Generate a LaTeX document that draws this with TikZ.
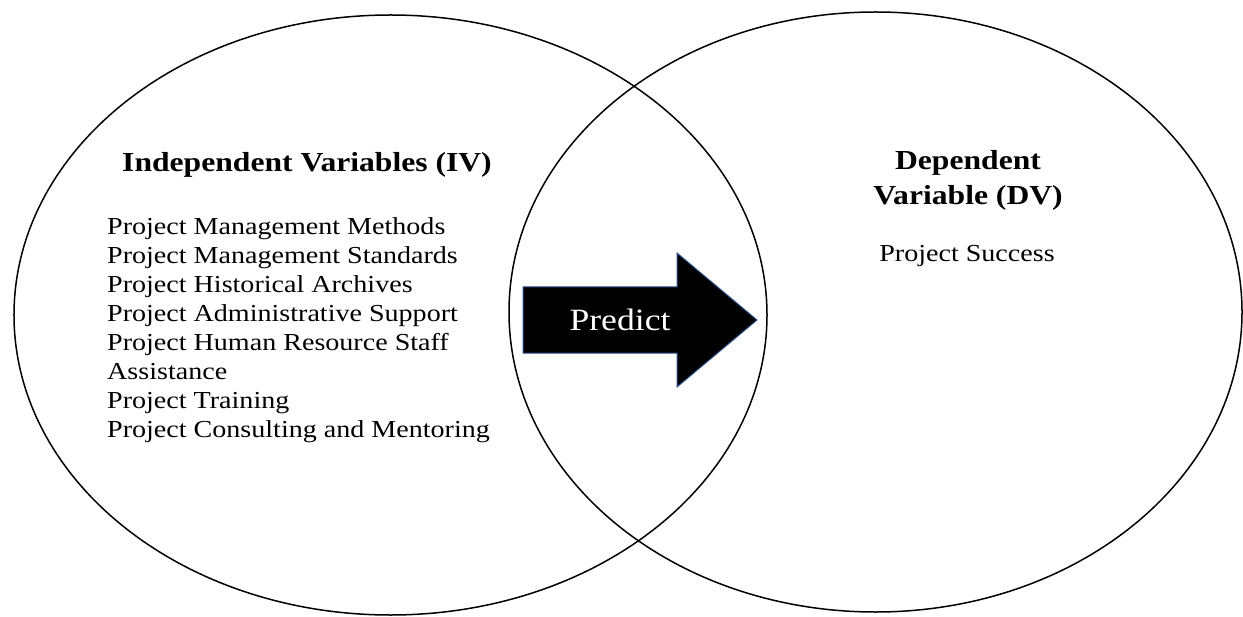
\documentclass[tikz,border=0pt]{standalone}
\usepackage{fontspec}
\setmainfont{Liberation Serif}[FakeStretch=1.15]
\usepackage{tikz}
\usetikzlibrary{arrows.meta,positioning,shapes.geometric}

\definecolor{arrowedge}{RGB}{47,82,143}

\begin{document}
\begin{tikzpicture}[
          x=1bp, y=-1bp,
          set/.style={ellipse, draw, line width=1.5bp, inner sep=0pt},
          head/.style={font=\fontsize{27.5bp}{35bp}\selectfont\bfseries, align=center, inner sep=0pt},
          item/.style={font=\fontsize{24.4bp}{29bp}\selectfont, align=left, inner sep=0pt},
          >=Latex
        ]
        \useasboundingbox (0,0) rectangle (1243,617);
        \node[set, minimum width=753bp, minimum height=600bp] (ivset) at (390.5,315) {};
        \node[set, minimum width=733bp, minimum height=600bp] (dvset) at (875.5,312) {};
        % left side
        \node[head, anchor=base] (ivhead) at (307,172) {Independent Variables (IV)};
        \node[item, anchor=north west] (ivlist) at (107,217) {Project Management Methods\\
          Project Management Standards\\Project Historical Archives\\
          Project Administrative Support\\Project Human Resource Staff\\
          Assistance\\Project Training\\Project Consulting and Mentoring};
        % right side
        \node[head, anchor=north] (dvhead) at (968,150) {Dependent\\Variable (DV)};
        \node[item, anchor=base] (dvlist) at (967,262) {Project Success};
        % arrow
        \fill[draw=arrowedge, line width=1bp] (523,287) -- (677,287) -- (677,253) -- (757,320)
          -- (677,387) -- (677,353) -- (523,353) -- cycle;
        \node[font=\fontsize{31bp}{33bp}\selectfont, text=white, inner sep=0pt] (predict) at (620,320) {Predict};
      \end{tikzpicture}
\end{document}
